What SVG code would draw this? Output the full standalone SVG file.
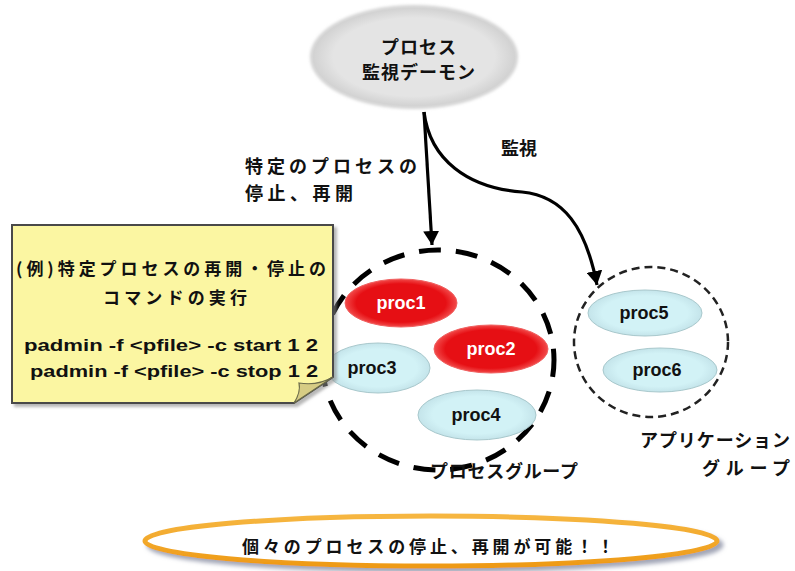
<svg xmlns="http://www.w3.org/2000/svg" width="795" height="571" viewBox="0 0 795 571">
<defs>
  <style>
    .jp { font-family: "Noto Sans CJK JP", "Liberation Sans", sans-serif; font-weight: bold; fill: #111; }
    .lat { font-family: "Liberation Sans", "DejaVu Sans", sans-serif; font-weight: bold; fill: #111; }
    .plabel { font-family: "Liberation Sans", "DejaVu Sans", sans-serif; font-weight: bold; font-size: 18px; text-anchor: middle; }
    .red { fill: url(#redg); stroke: #f06060; stroke-width: 1; }
    .cyan { fill: url(#cyang); stroke: #a8c8cc; stroke-width: 1; }
    .conn { fill: none; stroke: #000; stroke-width: 3.2; }
  </style>
  <radialGradient id="redg" cx="50%" cy="50%" r="50%">
    <stop offset="0.8" stop-color="#e60f14"/>
    <stop offset="1" stop-color="#f24a4a"/>
  </radialGradient>
  <radialGradient id="cyang" cx="50%" cy="50%" r="50%">
    <stop offset="0.75" stop-color="#d2f2f6"/>
    <stop offset="1" stop-color="#c4e4ea"/>
  </radialGradient>
  <radialGradient id="grayg" cx="50%" cy="50%" r="50%">
    <stop offset="0.8" stop-color="#e4e4e4"/>
    <stop offset="1" stop-color="#d2d2d2"/>
  </radialGradient>
  <linearGradient id="orangeg" x1="0" y1="0" x2="0" y2="1">
    <stop offset="0" stop-color="#f6b640"/>
    <stop offset="1" stop-color="#ee9a16"/>
  </linearGradient>
  <filter id="soft" x="-10%" y="-10%" width="120%" height="120%">
    <feGaussianBlur stdDeviation="1.5"/>
  </filter>
  <filter id="shadow" x="-10%" y="-20%" width="125%" height="150%">
    <feGaussianBlur in="SourceAlpha" stdDeviation="2"/>
    <feOffset dx="4" dy="4" result="b"/>
    <feFlood flood-color="#7a8098" flood-opacity="0.7"/>
    <feComposite in2="b" operator="in"/>
    <feMerge><feMergeNode/><feMergeNode in="SourceGraphic"/></feMerge>
  </filter>
  <filter id="noteshadow" x="-5%" y="-5%" width="115%" height="115%">
    <feGaussianBlur in="SourceAlpha" stdDeviation="1.5"/>
    <feOffset dx="3" dy="3" result="b"/>
    <feFlood flood-color="#888" flood-opacity="0.6"/>
    <feComposite in2="b" operator="in"/>
    <feMerge><feMergeNode/><feMergeNode in="SourceGraphic"/></feMerge>
  </filter>
  <marker id="arrow" viewBox="0 0 14 16" refX="14" refY="8" markerWidth="14" markerHeight="16" markerUnits="userSpaceOnUse" orient="auto">
    <path d="M0 0 L14 8 L0 16 Z" fill="#000"/>
  </marker>
</defs>

<!-- connectors -->
<g id="connectors">
  <path class="conn" d="M424 112 L432 245" marker-end="url(#arrow)"/>
  <path class="conn" d="M424 112 C430 160 468 188 522 192 C564 196 586 228 597 285" marker-end="url(#arrow)"/>
</g>

<!-- process daemon -->
<g id="daemon">
  <ellipse cx="414" cy="57" rx="104" ry="52" fill="#d4d4d4" filter="url(#soft)"/>
  <ellipse cx="414" cy="57" rx="101" ry="49" fill="url(#grayg)"/>
  <text class="jp" x="419" y="54" font-size="18" text-anchor="middle" letter-spacing="1">プロセス</text>
  <text class="jp" x="419" y="79" font-size="18" text-anchor="middle" letter-spacing="1">監視デーモン</text>
</g>

<g id="label-kanshi">
  <text class="jp" x="501" y="155" font-size="18">監視</text>
</g>
<g id="label-stop">
  <text class="jp" x="245" y="173" font-size="18" textLength="172" lengthAdjust="spacing">特定のプロセスの</text>
  <text class="jp" x="245" y="200" font-size="18" textLength="108" lengthAdjust="spacing">停止、再開</text>
</g>

<!-- process group -->
<g id="process-group">
  <ellipse cx="438" cy="360" rx="116" ry="110" fill="none" stroke="#000" stroke-width="5" stroke-dasharray="22 15" stroke-dashoffset="5"/>
  <text class="jp" x="430" y="478" font-size="18" textLength="148" lengthAdjust="spacing">プロセスグループ</text>
</g>

<g id="proc1">
  <ellipse class="red" cx="401" cy="303" rx="56" ry="24"/>
  <text class="plabel" x="401" y="309" fill="#fff">proc1</text>
</g>
<g id="proc2">
  <ellipse class="red" cx="491" cy="349" rx="57" ry="24"/>
  <text class="plabel" x="491" y="355" fill="#fff">proc2</text>
</g>
<g id="proc3">
  <ellipse class="cyan" cx="378" cy="368" rx="52" ry="25"/>
  <text class="plabel" x="372" y="374" fill="#111">proc3</text>
</g>
<g id="proc4">
  <ellipse class="cyan" cx="477" cy="415" rx="59" ry="25"/>
  <text class="plabel" x="476" y="421" fill="#111">proc4</text>
</g>

<!-- application group -->
<g id="app-group">
  <ellipse cx="651" cy="342" rx="77" ry="75" fill="none" stroke="#222" stroke-width="2.5" stroke-dasharray="8 5"/>
  <text class="jp" x="640" y="447" font-size="18" textLength="150" lengthAdjust="spacing">アプリケーション</text>
  <text class="jp" x="702" y="475" font-size="18" textLength="88" lengthAdjust="spacing">グループ</text>
</g>
<g id="proc5">
  <ellipse class="cyan" cx="645" cy="313" rx="57" ry="23"/>
  <text class="plabel" x="644" y="319" fill="#111">proc5</text>
</g>
<g id="proc6">
  <ellipse class="cyan" cx="660" cy="370" rx="57" ry="22"/>
  <text class="plabel" x="657" y="376" fill="#111">proc6</text>
</g>

<!-- note -->
<g id="note">
  <path d="M12 225 H333 V377 L294 403 H12 Z" fill="#fbf6a2" stroke="#4a4a4a" stroke-width="2" filter="url(#noteshadow)"/>
  <path d="M294 403 Q301 392 299 383 Q318 386 333 377 Z" fill="#d6cc84" stroke="#6a6a4a" stroke-width="1.2"/>
  <text class="jp" x="16" y="275" font-size="17" textLength="310" lengthAdjust="spacing">(例)特定プロセスの再開・停止の</text>
  <text class="jp" x="103" y="304" font-size="17" textLength="144" lengthAdjust="spacing">コマンドの実行</text>
  <text class="lat" x="24" y="351" font-size="17" textLength="294" lengthAdjust="spacingAndGlyphs">padmin -f &lt;pfile&gt; -c start 1 2</text>
  <text class="lat" x="30" y="377" font-size="17" textLength="288" lengthAdjust="spacingAndGlyphs">padmin -f &lt;pfile&gt; -c stop 1 2</text>
</g>

<!-- bottom message -->
<g id="message">
  <ellipse cx="431" cy="541" rx="286" ry="25" fill="#fff" stroke="url(#orangeg)" stroke-width="5" filter="url(#shadow)"/>
  <text class="jp" x="428" y="553" font-size="17" text-anchor="middle" textLength="372" lengthAdjust="spacing">個々のプロセスの停止、再開が可能！！</text>
</g>
</svg>
